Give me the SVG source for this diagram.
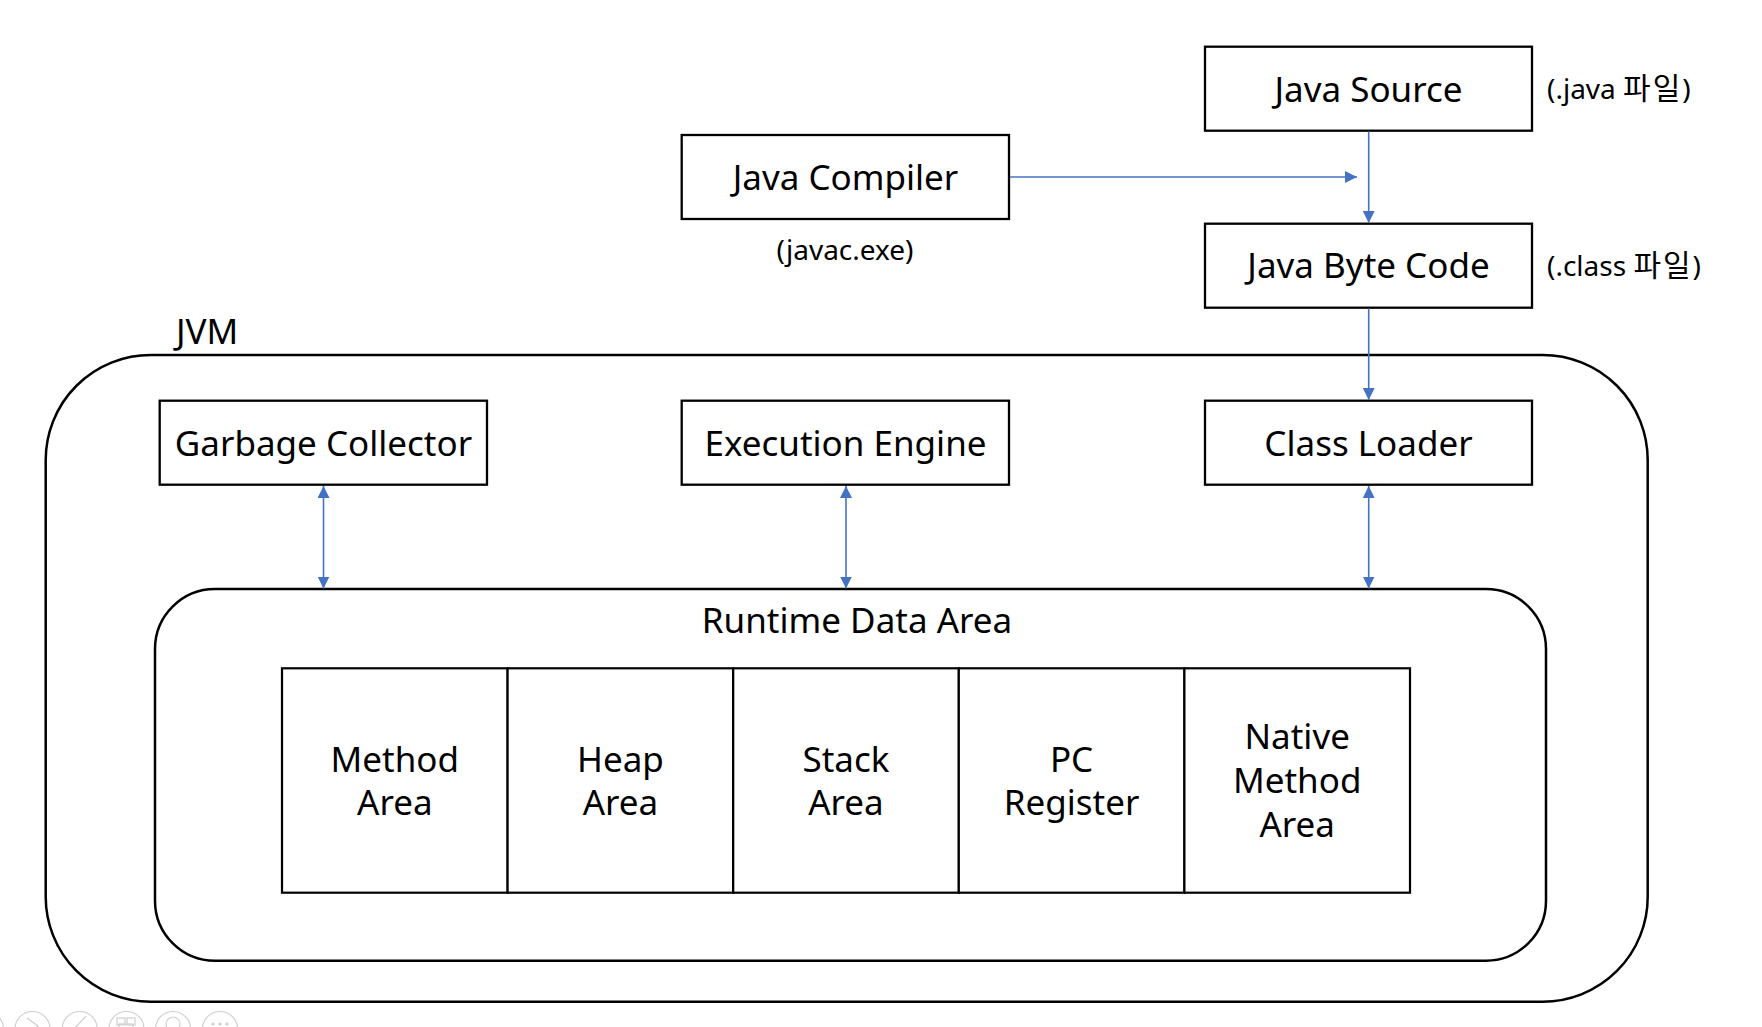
<svg xmlns="http://www.w3.org/2000/svg" width="1762" height="1027" viewBox="0 0 1762 1027">
<style>
  .box { fill: #ffffff; stroke: #000000; stroke-width: 2.3; }
  .frame { fill: none; stroke: #000000; stroke-width: 2.5; }
  .cell { fill: #ffffff; stroke: #000000; stroke-width: 2.2; }
  .t { font-family: "Noto Sans", "Noto Sans CJK KR", sans-serif; font-size: 35px; fill: #000000; text-anchor: middle; }
  .s { font-family: "Noto Sans", "Noto Sans CJK KR", sans-serif; font-size: 28px; fill: #000000; }
  .k { font-family: "Noto Sans CJK KR", sans-serif; font-weight: 400; font-size: 30px; letter-spacing: 2px; }
  .c { stroke: #4472C4; stroke-width: 1.6; fill: none; }
  .tb { fill: none; stroke: #cfcfcf; stroke-width: 1.2; }
</style>
<defs>
  <marker id="ah" viewBox="0 0 12 12" refX="12" refY="6" markerWidth="12" markerHeight="12" markerUnits="userSpaceOnUse" orient="auto-start-reverse">
    <path d="M0,0 L12,6 L0,12 Z" fill="#4472C4"/>
  </marker>
</defs>
<rect width="1762" height="1027" fill="#ffffff"/>

<g id="jvm">
  <rect class="frame" x="45.7" y="355" width="1602" height="646.7" rx="105" ry="105"/>
  <text class="t" x="176" y="344" style="text-anchor:start">JVM</text>
</g>

<g id="runtime-data-area">
  <rect class="frame" x="155" y="589" width="1391" height="371.7" rx="60" ry="60"/>
  <text class="t" x="857" y="633">Runtime Data Area</text>
</g>

<g id="java-source">
  <rect class="box" x="1205" y="46.7" width="327" height="84"/>
  <text class="t" x="1368.5" y="101.7">Java Source</text>
  <text class="s" x="1547" y="99">(.java <tspan class="k">파일</tspan>)</text>
</g>

<g id="java-compiler">
  <rect class="box" x="681.7" y="135" width="327.3" height="84"/>
  <text class="t" x="845.5" y="190">Java Compiler</text>
  <text class="s" x="845" y="260" style="text-anchor:middle">(javac.exe)</text>
</g>

<g id="java-byte-code">
  <rect class="box" x="1205" y="223.7" width="327" height="84"/>
  <text class="t" x="1368.5" y="278">Java Byte Code</text>
  <text class="s" x="1547" y="276">(.class <tspan class="k">파일</tspan>)</text>
</g>

<g id="garbage-collector">
  <rect class="box" x="159.7" y="400.7" width="327.3" height="84"/>
  <text class="t" x="323.5" y="455.5">Garbage Collector</text>
</g>

<g id="execution-engine">
  <rect class="box" x="681.7" y="400.7" width="327.3" height="84"/>
  <text class="t" x="845.5" y="455.5">Execution Engine</text>
</g>

<g id="class-loader">
  <rect class="box" x="1205" y="400.7" width="327" height="84"/>
  <text class="t" x="1368.5" y="455.5">Class Loader</text>
</g>

<g id="method-area">
  <rect class="cell" x="282" y="668.3" width="225.6" height="224.4"/>
  <text class="t" x="394.8" y="771.7">Method</text>
  <text class="t" x="394.8" y="815">Area</text>
</g>
<g id="heap-area">
  <rect class="cell" x="507.6" y="668.3" width="225.6" height="224.4"/>
  <text class="t" x="620.4" y="771.7">Heap</text>
  <text class="t" x="620.4" y="815">Area</text>
</g>
<g id="stack-area">
  <rect class="cell" x="733.2" y="668.3" width="225.6" height="224.4"/>
  <text class="t" x="846" y="771.7">Stack</text>
  <text class="t" x="846" y="815">Area</text>
</g>
<g id="pc-register">
  <rect class="cell" x="958.8" y="668.3" width="225.6" height="224.4"/>
  <text class="t" x="1071.6" y="771.7">PC</text>
  <text class="t" x="1071.6" y="815">Register</text>
</g>
<g id="native-method-area">
  <rect class="cell" x="1184.4" y="668.3" width="225.6" height="224.4"/>
  <text class="t" x="1297.2" y="749.3">Native</text>
  <text class="t" x="1297.2" y="793">Method</text>
  <text class="t" x="1297.2" y="836.5">Area</text>
</g>

<g id="connectors">
  <line class="c" x1="1010" y1="177" x2="1357" y2="177" marker-end="url(#ah)"/>
  <line class="c" x1="1368.7" y1="131.5" x2="1368.7" y2="223" marker-end="url(#ah)"/>
  <line class="c" x1="1368.7" y1="308.5" x2="1368.7" y2="400" marker-end="url(#ah)"/>
  <line class="c" x1="323.5" y1="486" x2="323.5" y2="588.5" marker-start="url(#ah)" marker-end="url(#ah)"/>
  <line class="c" x1="846" y1="486" x2="846" y2="588.5" marker-start="url(#ah)" marker-end="url(#ah)"/>
  <line class="c" x1="1368.7" y1="486" x2="1368.7" y2="588.5" marker-start="url(#ah)" marker-end="url(#ah)"/>
</g>

<g id="toolbar">
  <circle class="tb" cx="-14" cy="1029" r="17.5"/>
  <circle class="tb" cx="32.5" cy="1029" r="17.5"/>
  <path class="tb" d="M27,1018 L38,1026 L27,1034"/>
  <circle class="tb" cx="79.7" cy="1029" r="17.5"/>
  <path class="tb" d="M73,1030 L86,1016"/>
  <circle class="tb" cx="126.5" cy="1029" r="17.5"/>
  <rect class="tb" x="117" y="1018" width="8" height="7"/>
  <rect class="tb" x="127" y="1018" width="8" height="7"/>
  <rect class="tb" x="119" y="1024" width="14" height="6"/>
  <circle class="tb" cx="173" cy="1029" r="17.5"/>
  <circle class="tb" cx="173" cy="1024" r="7"/>
  <circle class="tb" cx="220" cy="1029" r="17.5"/>
  <circle cx="213" cy="1024" r="1.6" fill="#cfcfcf"/>
  <circle cx="220" cy="1024" r="1.6" fill="#cfcfcf"/>
  <circle cx="227" cy="1024" r="1.6" fill="#cfcfcf"/>
</g>
</svg>
